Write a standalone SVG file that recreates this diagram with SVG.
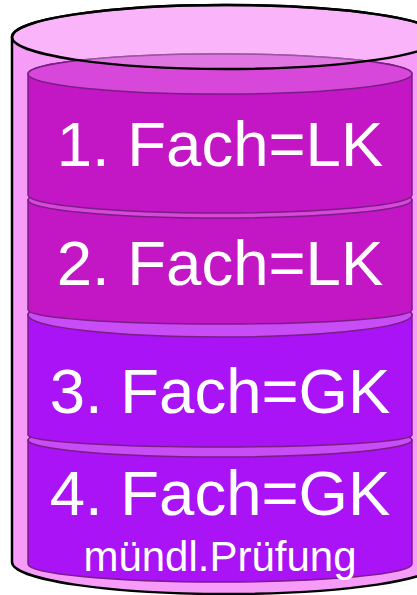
<svg xmlns="http://www.w3.org/2000/svg" width="417" height="595" viewBox="0 0 417 595">
  <style>
    .outer { fill: #f79bf8; stroke: #000; stroke-width: 2.5; }
    .outer-top { fill: #ffffff; fill-opacity: 0.25; stroke: #000; stroke-width: 2.5; }
    .lk-body { fill: #c316c5; stroke: #7a1d86; stroke-width: 1.5; }
    .lk-top { fill: #d748da; stroke: #7a1d86; stroke-width: 1.5; }
    .gk-body { fill: #a913f5; stroke: #7a1d86; stroke-width: 1.5; }
    .gk-top { fill: #c84df7; stroke: #7a1d86; stroke-width: 1.5; }
    .big { font-family: "Liberation Sans", Arial, sans-serif; font-size: 63.5px; fill: #ffffff; text-anchor: middle; }
    .small { font-family: "Liberation Sans", Arial, sans-serif; font-size: 42px; fill: #ffffff; text-anchor: middle; }
  </style>
  <g id="container">
    <path class="outer" d="M12,37 A214,32 0 0 1 440,37 L440,562 A214,32 0 0 1 12,562 Z"/>
  </g>
  <g id="fach4">
    <path class="gk-body" d="M28,440 A192,17 0 0 1 412,440 L412,564 A192,18 0 0 1 28,564 Z"/>
    <ellipse class="gk-top" cx="220" cy="440" rx="192" ry="17"/>
    <text class="big" x="220" y="515">4. Fach=GK</text>
    <text class="small" x="220" y="571">mündl.Prüfung</text>
  </g>
  <g id="fach3">
    <path class="gk-body" d="M28,315 A192,22 0 0 1 412,315 L412,435 A192,12 0 0 1 28,435 Z"/>
    <ellipse class="gk-top" cx="220" cy="315" rx="192" ry="22"/>
    <text class="big" x="220" y="413">3. Fach=GK</text>
  </g>
  <g id="fach2">
    <path class="lk-body" d="M28,200 A192,18 0 0 1 412,200 L412,310 A192,14 0 0 1 28,310 Z"/>
    <ellipse class="lk-top" cx="220" cy="200" rx="192" ry="18"/>
    <text class="big" x="220" y="285">2. Fach=LK</text>
  </g>
  <g id="fach1">
    <path class="lk-body" d="M28,74 A192,20 0 0 1 412,74 L412,195 A192,18 0 0 1 28,195 Z"/>
    <ellipse class="lk-top" cx="220" cy="74" rx="192" ry="20"/>
    <text class="big" x="220" y="166">1. Fach=LK</text>
  </g>
  <g id="container-top">
    <ellipse class="outer-top" cx="226" cy="37" rx="214" ry="32"/>
  </g>
  <g id="connectors"/>
</svg>
